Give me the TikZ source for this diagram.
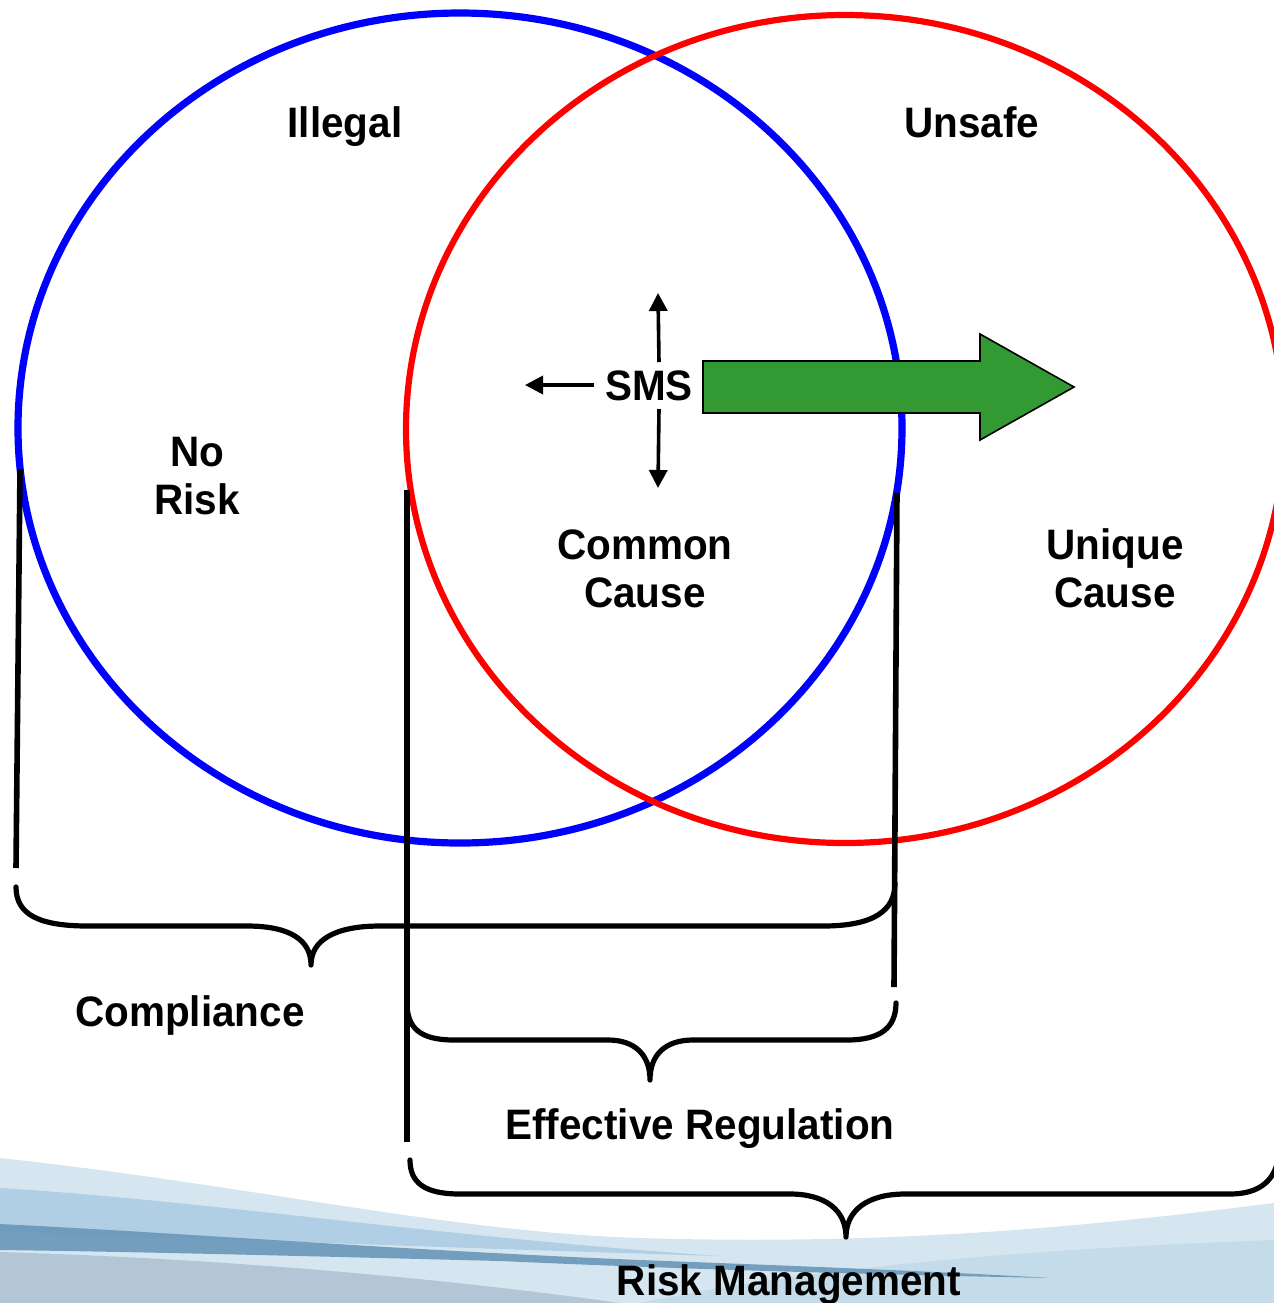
\documentclass[tikz,border=0pt]{standalone}
\usepackage{fontspec}
\setmainfont[FakeStretch=0.95]{Liberation Sans}
\usetikzlibrary{arrows.meta}
\definecolor{venblue}{RGB}{0,0,255}
\definecolor{venred}{RGB}{255,0,0}
\definecolor{arrgreen}{RGB}{51,153,51}
\definecolor{bgA}{RGB}{214,230,240}
\definecolor{bgB}{RGB}{168,202,225}
\definecolor{bgC}{RGB}{100,146,182}
\definecolor{bgD}{RGB}{176,195,212}
\definecolor{bgE}{RGB}{196,219,233}
\begin{document}
\begin{tikzpicture}[x=0.5pt,y=-0.5pt,
  lbl/.style={font=\fontsize{21.3}{24}\selectfont\bfseries, align=center, inner sep=0pt},
  bracepath/.style={line width=2.6pt, line join=round, line cap=round},
  bar/.style={line width=2.8pt},
  sarrow/.style={line width=1.8pt, -{Triangle[length=9pt,width=9pt]}}]
\useasboundingbox (0,0) rectangle (1274,1303);
\clip (0,0) rectangle (1274,1303);
% background swoosh
\fill[bgA] (0,1158) .. controls (250,1185) and (450,1232) .. (640,1238)
  .. controls (900,1246) and (1100,1225) .. (1274,1203) -- (1274,1303) -- (0,1303) -- cycle;
\fill[bgE] (640,1303) .. controls (800,1270) and (1000,1250) .. (1274,1240) -- (1274,1303) -- cycle;
\fill[bgB, opacity=0.8] (0,1188) .. controls (200,1200) and (450,1238) .. (720,1256)
  .. controls (450,1248) and (200,1238) .. (0,1232) -- cycle;
\fill[bgC, opacity=0.85] (0,1224) .. controls (200,1234) and (400,1250) .. (640,1260)
  .. controls (800,1266) and (950,1272) .. (1050,1278)
  .. controls (900,1275) and (700,1270) .. (500,1261)
  .. controls (300,1256) and (150,1252) .. (0,1250) -- cycle;
\fill[bgD, opacity=0.9] (0,1252) .. controls (200,1258) and (420,1275) .. (620,1303) -- (0,1303) -- cycle;
% circles
\draw[venblue, line width=3.6pt] (460,428) ellipse [x radius=442, y radius=415];
\draw[venred, line width=3.1pt] (845,429) ellipse [x radius=439, y radius=414];
% labels
\node[lbl, anchor=base] (illegal) at (345,137) {Illegal};
\node[lbl, anchor=base] (unsafe) at (972,137) {Unsafe};
\node[lbl] (norisk) at (197,476) {No\\Risk};
\node[lbl, anchor=base] (sms) at (649,400) {SMS};
\node[lbl] (common) at (645,569) {Common\\Cause};
\node[lbl] (unique) at (1115,568) {Unique\\Cause};
\node[lbl, anchor=base] (compl) at (190,1026) {Compliance};
\node[lbl, anchor=base] (effreg) at (700,1139) {Effective Regulation};
\node[lbl, anchor=base] (riskm) at (789,1295) {Risk Management};
% SMS arrows
\coordinate (smsL) at (525,385);
\coordinate (smsU) at (658,293);
\coordinate (smsD) at (658,488);
\draw[sarrow] (594,385) -- (smsL);
\draw[sarrow] (659,362) -- (smsU);
\draw[sarrow] (659,409) -- (smsD);
% green arrow
\draw[fill=arrgreen, line width=0.8pt, line join=miter] (703,361) -- (980,361) -- (980,334) -- (1074,387)
  -- (980,440) -- (980,413) -- (703,413) -- cycle;
% vertical bars
\draw[bar] (20,469) -- (16,868);
\draw[bar] (407,490) -- (407,1142);
\draw[bar] (897,493) -- (894,987);
% braces
\draw[bracepath] (16,887) .. controls (16,915) and (40,926) .. (88,926) -- (247,926)
  .. controls (290,926) and (311,940) .. (311,965)
  .. controls (311,940) and (335,926) .. (380,926) -- (823,926)
  .. controls (875,926) and (895,910) .. (895,883);
\draw[bracepath] (407,1003) .. controls (407,1028) and (420,1040) .. (454,1040) -- (608,1040)
  .. controls (635,1040) and (650,1055) .. (650,1080)
  .. controls (650,1055) and (665,1040) .. (693,1040) -- (847,1040)
  .. controls (880,1040) and (896,1028) .. (896,1003);
\draw[bracepath] (410,1160) .. controls (410,1183) and (425,1194) .. (460,1194) -- (790,1194)
  .. controls (825,1194) and (846,1210) .. (846,1237)
  .. controls (846,1210) and (868,1194) .. (905,1194) -- (1230,1194)
  .. controls (1260,1194) and (1274,1180) .. (1278,1160);
\end{tikzpicture}
\end{document}
